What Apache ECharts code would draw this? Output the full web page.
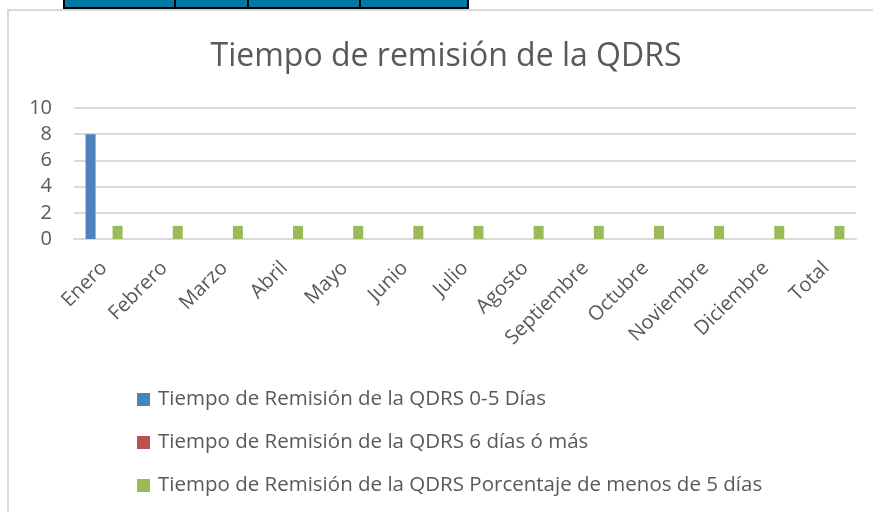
<!DOCTYPE html>
<html>
<head>
<meta charset="utf-8">
<script src="https://cdn.jsdelivr.net/npm/echarts@6/dist/echarts.min.js"></script>
<style>
  html, body { margin: 0; padding: 0; background: #fff; }
  #chart { width: 873px; height: 512px; }
</style>
</head>
<body>
<div id="chart"></div>
<script>
var months = ['Enero', 'Febrero', 'Marzo', 'Abril', 'Mayo', 'Junio', 'Julio', 'Agosto',
  'Septiembre', 'Octubre', 'Noviembre', 'Diciembre', 'Total']
var seriesNames = [
  'Tiempo de Remisión de la QDRS 0-5 Días',
  'Tiempo de Remisión de la QDRS 6 días ó más',
  'Tiempo de Remisión de la QDRS Porcentaje de menos de 5 días'
]
var dias0a5 = [8, 0, 0, 0, 0, 0, 0, 0, 0, 0, 0, 0, 0]
var dias6mas = [0, 0, 0, 0, 0, 0, 0, 0, 0, 0, 0, 0, 0]
var porcentaje = [1, 1, 1, 1, 1, 1, 1, 1, 1, 1, 1, 1, 1]
var colors = ['#4F81BD', '#C0504D', '#9BBB59']

var font = 'Open Sans'
var chart = echarts.init(document.getElementById('chart'))
var option = {
  animation: false,
  textStyle: { fontFamily: font, color: '#595959' },
  title: {
    text: 'Tiempo de remisión de la QDRS',
    left: 441,
    top: 36,
    textAlign: 'center',
    textStyle: { fontFamily: font, fontSize: 32, fontWeight: 'normal', color: '#595959' }
  },
  legend: {
    orient: 'vertical',
    left: 132,
    top: 384,
    itemWidth: 13,
    itemHeight: 13,
    itemGap: 22,
    icon: 'rect',
    data: seriesNames,
    textStyle: { fontFamily: font, fontSize: 20.5, color: '#595959', padding: [0, 0, 0, 3] }
  },
  grid: { left: 74, right: 17, top: 108, bottom: 273, containLabel: false },
  xAxis: {
    type: 'category',
    data: months,
    axisLine: { lineStyle: { color: '#d9d9d9', width: 2 } },
    axisTick: { show: false },
    axisLabel: { rotate: 45, fontSize: 20, color: '#595959', margin: 26, interval: 0 }
  },
  yAxis: {
    type: 'value',
    min: 0,
    max: 10,
    interval: 2,
    axisLine: { show: false },
    axisTick: { show: false },
    splitLine: { lineStyle: { color: '#d9d9d9', width: 2 } },
    axisLabel: { fontSize: 20, color: '#595959', margin: 22 }
  },
  series: [
    { name: seriesNames[0], type: 'bar', data: dias0a5, barWidth: 10, barGap: '35%', itemStyle: { color: colors[0] } },
    { name: seriesNames[1], type: 'bar', data: dias6mas, barWidth: 10, barGap: '35%', itemStyle: { color: colors[1] } },
    { name: seriesNames[2], type: 'bar', data: porcentaje, barWidth: 10, barGap: '35%', itemStyle: { color: colors[2] } }
  ],
  graphic: [
    // chart frame
    { type: 'rect', shape: { x: 8, y: 10, width: 880, height: 520 }, style: { fill: 'none', stroke: '#d9d9d9', lineWidth: 2 }, silent: true },
    // table strip above the chart
    { type: 'rect', shape: { x: 64, y: -4, width: 404, height: 12 }, style: { fill: '#0079A8', stroke: '#000', lineWidth: 2 }, silent: true },
    { type: 'line', shape: { x1: 175, y1: 0, x2: 175, y2: 8 }, style: { stroke: '#000', lineWidth: 2 }, silent: true },
    { type: 'line', shape: { x1: 248, y1: 0, x2: 248, y2: 8 }, style: { stroke: '#000', lineWidth: 2 }, silent: true },
    { type: 'line', shape: { x1: 360, y1: 0, x2: 360, y2: 8 }, style: { stroke: '#000', lineWidth: 2 }, silent: true }
  ]
}
chart.setOption(option)
</script>
</body>
</html>
